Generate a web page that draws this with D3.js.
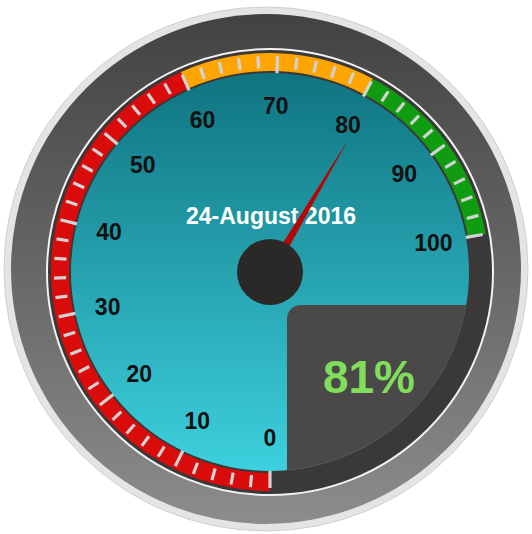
<!DOCTYPE html>
<html>
<head>
<meta charset="utf-8">
<script src="https://cdn.jsdelivr.net/npm/d3@7"></script>
<style>
  html, body { margin: 0; padding: 0; background: #fff; }
  svg { display: block; font-family: "Liberation Sans", Arial, sans-serif; }
</style>
</head>
<body>
<svg id="gauge"></svg>
<script>
// gauge data
var gaugeValue = 81;
var dateLabel = "24-August 2016";
var tickLabels = [0, 10, 20, 30, 40, 50, 60, 70, 80, 90, 100];
var bandStarts = [0, 60, 80];
var bandEnds = [60, 80, 100];
var bandColors = ["#d90b0b", "#ffa502", "#109c10"];

var width = 532, height = 534;
var cx = 270, cy = 272;
var faceR = 199;

var svg = d3.select("#gauge")
    .attr("width", width)
    .attr("height", height);

var defs = svg.append("defs");

var bezelGrad = defs.append("linearGradient")
    .attr("id", "bezelGrad")
    .attr("x1", 0).attr("y1", 0).attr("x2", 0).attr("y2", 1);
bezelGrad.append("stop").attr("offset", "0%").attr("stop-color", "#424242");
bezelGrad.append("stop").attr("offset", "100%").attr("stop-color", "#8c8c8c");

var faceGrad = defs.append("linearGradient")
    .attr("id", "faceGrad")
    .attr("x1", 0).attr("y1", 0).attr("x2", 0).attr("y2", 1);
faceGrad.append("stop").attr("offset", "0%").attr("stop-color", "#0f7480");
faceGrad.append("stop").attr("offset", "100%").attr("stop-color", "#3dd0de");

defs.append("clipPath")
    .attr("id", "faceClip")
    .append("circle")
        .attr("r", faceR);

// degrees, 0 at twelve o'clock, clockwise
var angle = d3.scaleLinear()
    .domain([0, 100])
    .range([-180, 80]);

function rad(v) {
    return angle(v) * Math.PI / 180;
}
function pt(v, r) {
    return [r * Math.sin(rad(v)), -r * Math.cos(rad(v))];
}

// outer rim and bezel
svg.append("circle")
    .attr("cx", 266).attr("cy", 269).attr("r", 262)
    .attr("fill", "#e4e4e4")
    .attr("stroke", "#d0d0d0");
svg.append("circle")
    .attr("cx", 266).attr("cy", 269).attr("r", 255)
    .attr("fill", "url(#bezelGrad)");

var g = svg.append("g")
    .attr("transform", "translate(" + cx + "," + cy + ")");

g.append("circle")
    .attr("r", 223)
    .attr("fill", "#3a3838")
    .attr("stroke", "#f2f2f2")
    .attr("stroke-width", 2);

// coloured band
var bandArc = d3.arc()
    .innerRadius(201)
    .outerRadius(219);

g.selectAll("path.band")
    .data(bandStarts)
    .enter().append("path")
        .attr("class", "band")
        .attr("d", function(d, i) {
            return bandArc({startAngle: rad(d), endAngle: rad(bandEnds[i])});
        })
        .attr("fill", function(d, i) { return bandColors[i]; });

// ticks
g.selectAll("line.tick")
    .data(angle.ticks(50))
    .enter().append("line")
        .attr("class", "tick")
        .attr("x1", function(d) { return pt(d, d % 10 === 0 ? 198 : 204)[0]; })
        .attr("y1", function(d) { return pt(d, d % 10 === 0 ? 198 : 204)[1]; })
        .attr("x2", function(d) { return pt(d, 216)[0]; })
        .attr("y2", function(d) { return pt(d, 216)[1]; })
        .attr("stroke", "#d2d2d2")
        .attr("stroke-width", 3.2);

// face
g.append("circle")
    .attr("r", faceR)
    .attr("fill", "url(#faceGrad)");

g.append("rect")
    .attr("x", 17).attr("y", 33)
    .attr("width", 260).attr("height", 260)
    .attr("rx", 14)
    .attr("fill", "#4a4848")
    .attr("clip-path", "url(#faceClip)");

// labels
g.selectAll("text.label")
    .data(tickLabels)
    .enter().append("text")
        .attr("class", "label")
        .attr("x", function(d) { return pt(d, 166)[0]; })
        .attr("y", function(d) { return pt(d, 166)[1]; })
        .attr("text-anchor", "middle")
        .attr("dominant-baseline", "central")
        .attr("font-size", 23)
        .attr("font-weight", "bold")
        .attr("fill", "#111")
        .text(function(d) { return d; });

g.append("text")
    .attr("x", 1).attr("y", -48)
    .attr("text-anchor", "middle")
    .attr("font-size", 23)
    .attr("font-weight", "bold")
    .attr("fill", "#fff")
    .text(dateLabel);

g.append("text")
    .attr("x", 99).attr("y", 121)
    .attr("text-anchor", "middle")
    .attr("font-size", 46)
    .attr("font-weight", "bold")
    .attr("fill", "#80de5c")
    .text(gaugeValue + "%");

// needle
var tip = pt(gaugeValue, 155);
var baseL = pt(gaugeValue - 25, 5);
var baseR = pt(gaugeValue + 25, 5);
g.append("path")
    .attr("d", "M" + baseL + "L" + tip + "L" + baseR + "Z")
    .attr("fill", "#b40606");

g.append("circle")
    .attr("r", 33)
    .attr("fill", "#2a2928");
</script>
</body>
</html>
